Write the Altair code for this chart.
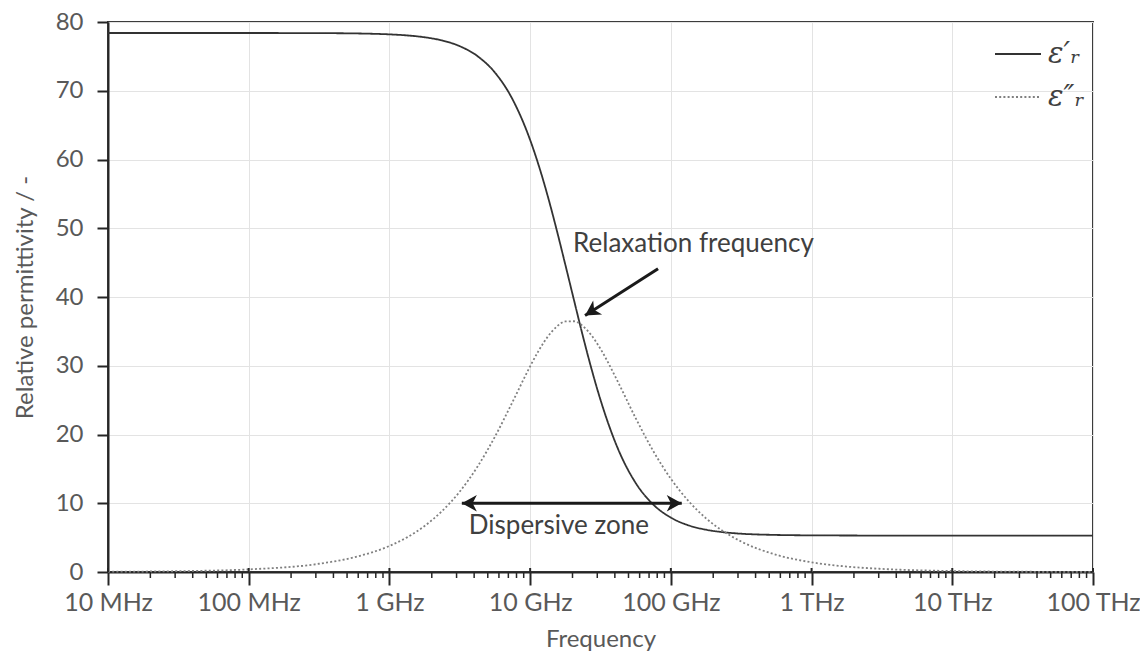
import altair as alt
import pandas as pd

# ---- data ----
freq_hz = [1e7, 3.162e7, 1e8, 3.162e8, 5.623e8, 1e9, 1.334e9, 1.778e9, 2.371e9, 3.162e9,
           4.217e9, 5.623e9, 7.499e9, 1e10, 1.155e10, 1.334e10, 1.540e10, 1.778e10, 2.054e10,
           2.371e10, 2.738e10, 3.162e10, 4.217e10, 5.623e10, 7.499e10, 1e11, 1.334e11,
           1.778e11, 2.371e11, 3.162e11, 5.623e11, 1e12, 1.778e12, 3.162e12, 1e13, 3.162e13, 1e14]
eps_real = [78.40, 78.40, 78.40, 78.38, 78.34, 78.20, 78.05, 77.78, 77.31, 76.48,
            75.05, 72.64, 68.75, 62.84, 59.03, 54.67, 49.84, 44.71, 39.46,
            34.30, 29.44, 25.04, 17.88, 12.95, 9.81, 7.91, 6.79,
            6.15, 5.78, 5.57, 5.39, 5.33, 5.31, 5.30, 5.30, 5.30, 5.30]
eps_imag = [0.04, 0.12, 0.38, 1.20, 2.14, 3.79, 5.04, 6.70, 8.88, 11.70,
            15.30, 19.69, 24.74, 29.92, 32.26, 34.23, 35.67, 36.44, 36.47,
            35.76, 34.38, 32.45, 27.60, 22.38, 17.59, 13.56, 10.33,
            7.81, 5.89, 4.43, 2.50, 1.41, 0.79, 0.45, 0.14, 0.04, 0.01]
series_names = ["ε′ᵣ", "ε″ᵣ"]

tick_values = [1e7, 1e8, 1e9, 1e10, 1e11, 1e12, 1e13, 1e14]
tick_labels = ["10 MHz", "100 MHz", "1 GHz", "10 GHz", "100 GHz", "1 THz", "10 THz", "100 THz"]
minor_ticks = [m * d for d in tick_values[:-1] for m in range(2, 10)]
y_ticks = [0, 10, 20, 30, 40, 50, 60, 70, 80]

# annotations
relax_text = ["Relaxation frequency"]
relax_text_x = [2.02e10]
relax_text_y = [47.7]
relax_arrow_x = [8.11e10, 2.455e10]   # tail, tip
relax_arrow_y = [44.1, 37.3]
disp_text = ["Dispersive zone"]
disp_text_x = [1.60e10]
disp_text_y = [6.65]
disp_arrow_x = [3.27e9, 1.195e11]
disp_arrow_y = [10.0, 10.0]

# ---- tables ----
curves = pd.DataFrame({
    "freq": freq_hz * 2,
    "value": eps_real + eps_imag,
    "series": [series_names[0]] * len(freq_hz) + [series_names[1]] * len(freq_hz),
})
relax_t = pd.DataFrame({"freq": relax_text_x, "value": relax_text_y, "text": relax_text})
disp_t = pd.DataFrame({"freq": disp_text_x, "value": disp_text_y, "text": disp_text})
relax_a = pd.DataFrame({"freq": relax_arrow_x, "value": relax_arrow_y, "o": [0, 1]})
relax_head = pd.DataFrame({"freq": [relax_arrow_x[1]], "value": [relax_arrow_y[1]], "ang": [237.3]})
disp_a = pd.DataFrame({"freq": disp_arrow_x, "value": disp_arrow_y, "o": [0, 1]})
disp_head = pd.DataFrame({"freq": disp_arrow_x, "value": disp_arrow_y, "ang": [270, 90]})
minor_df = pd.DataFrame({"freq": minor_ticks})
major_df = pd.DataFrame({"freq": tick_values})

W, H = 985, 550
FONT = "Lato"
GRAY = "#595959"

label_arr = "[" + ",".join("'" + t + "'" for t in tick_labels) + "]"
xscale = alt.Scale(type="log", domain=[1e7, 1e14], nice=False)
yscale = alt.Scale(domain=[0, 80], nice=False)

x_enc = alt.X("freq:Q", scale=xscale, title="Frequency",
              axis=alt.Axis(values=tick_values,
                            labelExpr=label_arr + "[round(log(datum.value)/LN10)-7]",
                            tickSize=13, labelPadding=5, titlePadding=12,
                            labelFontSize=25, labelFlush=False, grid=True))
y_enc = alt.Y("value:Q", scale=yscale, title="Relative permittivity / -",
              axis=alt.Axis(values=y_ticks, tickSize=11, labelPadding=14,
                            titlePadding=18, labelFontSize=24, grid=True))

legend = alt.Legend(title=None, orient="none", legendX=886, legendY=8,
                    symbolType="stroke", symbolSize=2116, symbolStrokeWidth=2,
                    labelFont="DejaVu Serif", labelFontStyle="italic", labelFontSize=29,
                    labelColor="#404040", labelOffset=6, rowPadding=4)

lines = alt.Chart(curves).mark_line(interpolate="monotone", strokeWidth=1.8).encode(
    x=x_enc, y=y_enc,
    color=alt.Color("series:N", scale=alt.Scale(domain=series_names, range=["#333333", "#808080"]),
                    legend=legend),
    strokeDash=alt.StrokeDash("series:N", scale=alt.Scale(domain=series_names, range=[[1, 0], [2, 2.2]]),
                              legend=legend),
)

minor = alt.Chart(minor_df).mark_rule(color="#262626", strokeWidth=1.5).encode(
    x="freq:Q", y=alt.value(H), y2=alt.value(H + 6))
major_in = alt.Chart(major_df).mark_rule(color="#262626", strokeWidth=2).encode(
    x="freq:Q", y=alt.value(H - 4), y2=alt.value(H))

relax_line = alt.Chart(relax_a).mark_line(color="#1a1a1a", strokeWidth=3).encode(
    x="freq:Q", y="value:Q", order="o:Q")
arrow_path = "M0,0 L-0.55,1 L0,0.72 L0.55,1 Z"
relax_hd = alt.Chart(relax_head).mark_point(shape=arrow_path, filled=True, size=900,
                                            color="#1a1a1a", opacity=1).encode(
    x="freq:Q", y="value:Q", angle=alt.Angle("ang:Q", scale=None))
disp_line = alt.Chart(disp_a).mark_line(color="#1a1a1a", strokeWidth=3).encode(
    x="freq:Q", y="value:Q", order="o:Q")
disp_hd = alt.Chart(disp_head).mark_point(shape=arrow_path, filled=True, size=900,
                                          color="#1a1a1a", opacity=1).encode(
    x="freq:Q", y="value:Q", angle=alt.Angle("ang:Q", scale=None))

relax_txt = alt.Chart(relax_t).mark_text(align="left", baseline="middle", font=FONT,
                                         fontSize=26, color="#404040").encode(
    x="freq:Q", y="value:Q", text="text:N")
disp_txt = alt.Chart(disp_t).mark_text(align="center", baseline="middle", font=FONT,
                                       fontSize=26, color="#404040").encode(
    x="freq:Q", y="value:Q", text="text:N")

chart = alt.layer(lines, minor, major_in, relax_line, relax_hd, disp_line, disp_hd,
                  relax_txt, disp_txt).properties(
    width=W, height=H,
    autosize=alt.AutoSizeParams(type="none"),
    padding={"left": 100, "top": 14, "right": 47, "bottom": 83},
).configure_view(stroke="#3c3c3c", strokeWidth=2).configure_axis(
    labelFont=FONT, titleFont=FONT, titleFontSize=24,
    titleFontWeight="normal", labelColor=GRAY, titleColor=GRAY,
    domainColor="#262626", domainWidth=2, tickColor="#262626", tickWidth=2,
    gridColor="#e3e3e3", gridWidth=1,
)

chart.save("out.html", embed_options={"renderer": "svg", "actions": False})
